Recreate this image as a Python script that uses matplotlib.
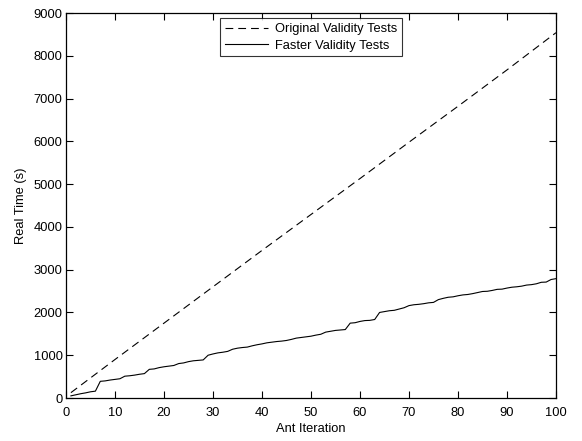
import matplotlib
matplotlib.use("Agg")
import matplotlib.pyplot as plt

plt.rcParams['font.family'] = ['Liberation Sans', 'DejaVu Sans']

# Original validity tests: cumulative real time, sampled every 10 iterations
orig_iter = [1, 10, 20, 30, 40, 50, 60, 70, 80, 90, 100]
orig_time = [125, 900, 1750, 2600, 3450, 4290, 5130, 5980, 6820, 7670, 8540]

# Faster validity tests: cumulative real time per iteration
fast_iter = list(range(1, 101))
fast_time = [
    50, 75, 100, 120, 145, 160, 390, 400, 420, 435,
    450, 510, 520, 535, 555, 570, 670, 680, 710, 730,
    745, 760, 805, 820, 850, 870, 880, 890, 1000, 1030,
    1055, 1070, 1090, 1140, 1165, 1180, 1190, 1220, 1245, 1265,
    1290, 1305, 1320, 1330, 1345, 1370, 1400, 1415, 1430, 1445,
    1470, 1490, 1540, 1560, 1580, 1590, 1600, 1750, 1760, 1790,
    1810, 1815, 1835, 2000, 2020, 2040, 2050, 2080, 2110, 2160,
    2180, 2190, 2205, 2225, 2235, 2300, 2330, 2355, 2365, 2390,
    2410, 2420, 2440, 2465, 2490, 2495, 2515, 2540, 2545, 2570,
    2590, 2600, 2615, 2640, 2650, 2670, 2705, 2710, 2770, 2790,
]

series_labels = ["Original Validity Tests", "Faster Validity Tests"]
x_ticks = [0, 10, 20, 30, 40, 50, 60, 70, 80, 90, 100]
y_ticks = [0, 1000, 2000, 3000, 4000, 5000, 6000, 7000, 8000, 9000]

FS = 9.3

fig = plt.figure(figsize=(5.82, 4.41), dpi=100)
ax = fig.add_axes([0.1134, 0.0975, 0.8419, 0.873])

ax.plot(orig_iter, orig_time, color="black", linewidth=0.8,
        linestyle=(0, (7, 4.5)), label=series_labels[0])
ax.plot(fast_iter, fast_time, color="black", linewidth=0.8,
        linestyle="-", label=series_labels[1])

ax.set_xlim(0, 100)
ax.set_ylim(0, 9000)
ax.set_xticks(x_ticks)
ax.set_yticks(y_ticks)
ax.tick_params(direction="in", length=5, width=0.8, labelsize=FS,
               top=True, right=True, colors="black")
ax.tick_params(axis="x", pad=6.5)
ax.tick_params(axis="y", pad=2.5)
for s in ax.spines.values():
    s.set_linewidth(0.9)
    s.set_color("black")

ax.set_xlabel("Ant Iteration", fontsize=FS, labelpad=3)
ax.set_ylabel("Real Time (s)", fontsize=FS, labelpad=5)

leg = ax.legend(loc="upper center", bbox_to_anchor=(0.5, 0.986), fontsize=FS,
                frameon=True, fancybox=False, edgecolor="black",
                handlelength=3.35, handletextpad=0.47, borderpad=0.38,
                labelspacing=0.32, borderaxespad=0)
leg.get_frame().set_linewidth(0.8)

fig.savefig("out.png", dpi=100, facecolor="white")
